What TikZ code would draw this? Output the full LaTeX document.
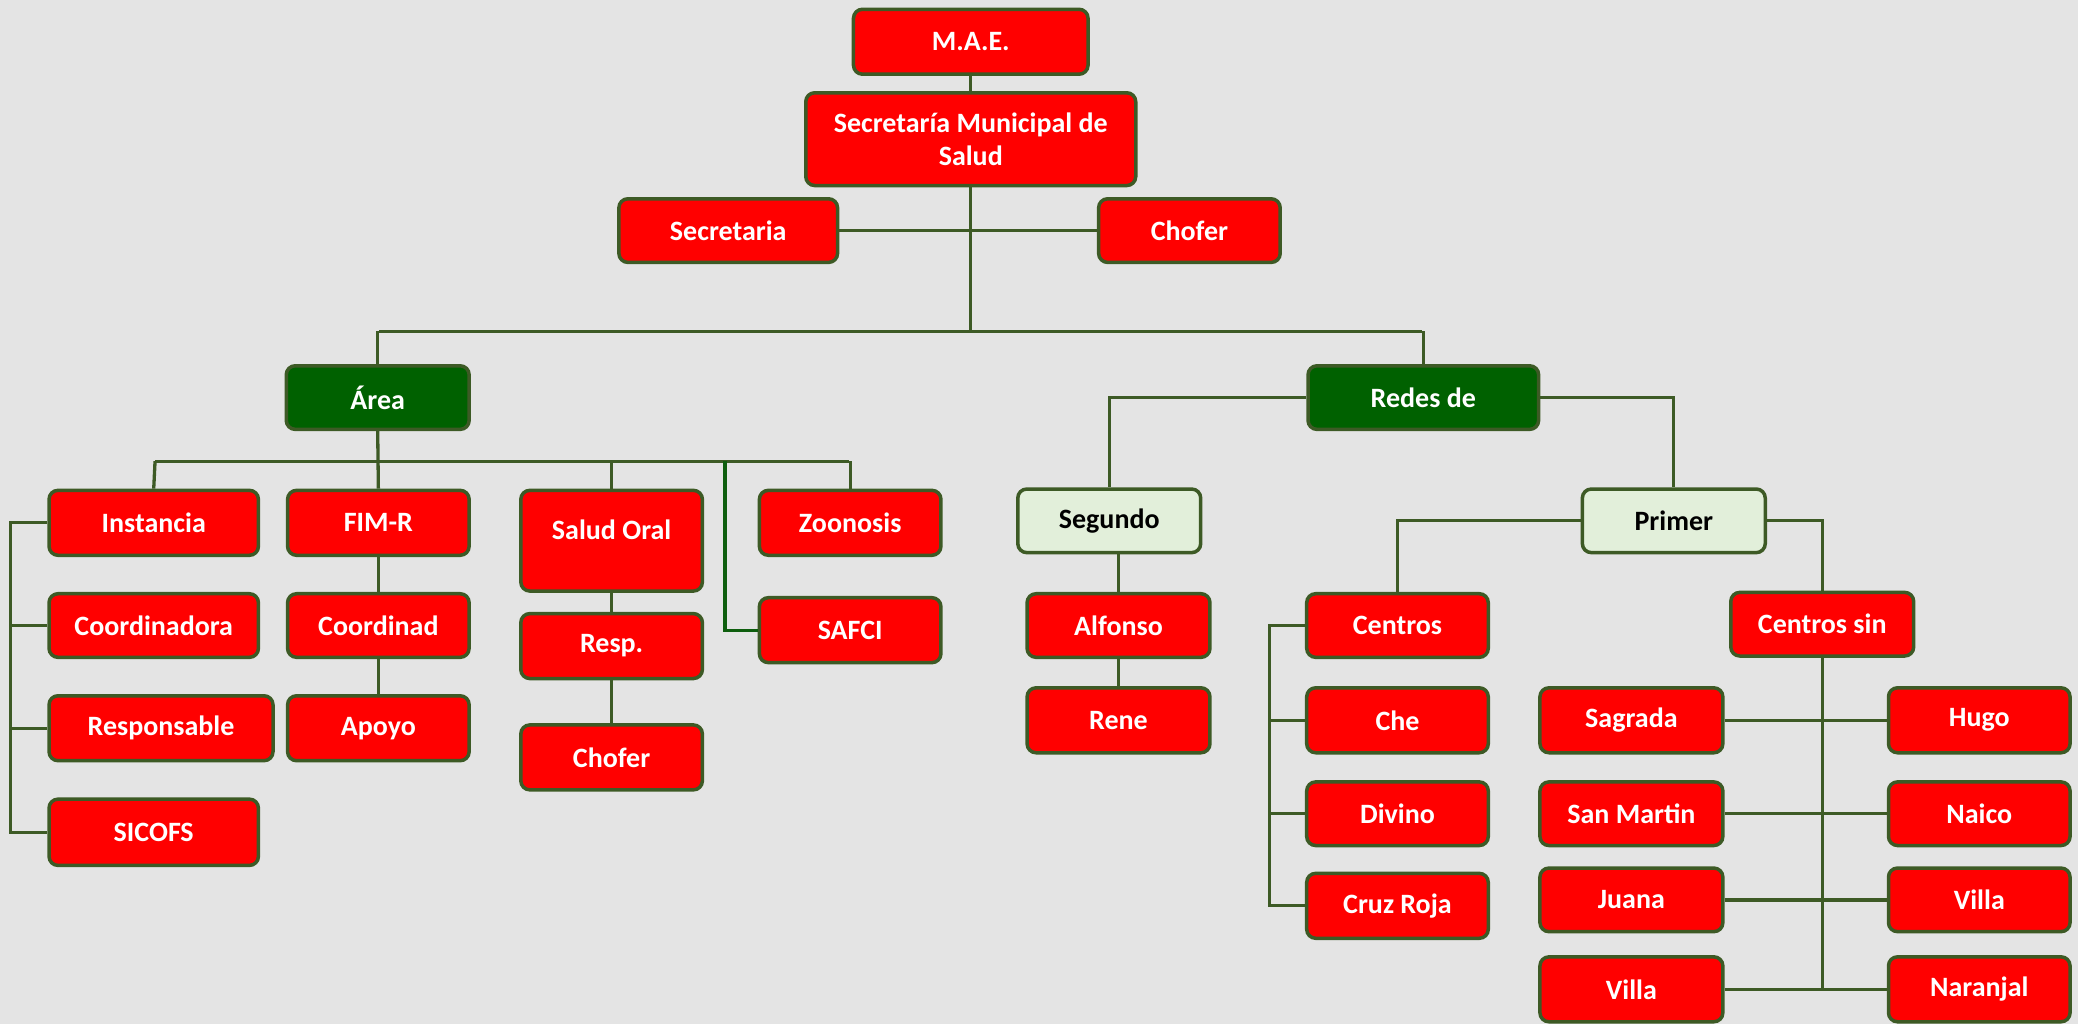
\documentclass[tikz,border=0pt]{standalone}
\usepackage{fontspec}
\setmainfont{Carlito}
\definecolor{boxred}{HTML}{FF0000}
\definecolor{edgec}{HTML}{3D5A25}
\definecolor{dgreen}{HTML}{006100}
\definecolor{lgreen}{HTML}{E2EFDA}
\definecolor{bgc}{HTML}{E4E4E4}
\definecolor{safcic}{HTML}{0E5E0E}
\begin{document}
\begin{tikzpicture}[x=1.3253pt,y=-1.3253pt,
  box/.style={draw=edgec, line width=3.5pt, rounded corners=9pt, font=\fontsize{28}{33}\selectfont\bfseries, align=center, inner sep=0pt},
  rbox/.style={box, fill=boxred, text=white},
  gbox/.style={box, fill=dgreen, text=white},
  lbox/.style={box, fill=lgreen, text=black},
  sz/.style 2 args={minimum width=#1*1.3253pt, minimum height=#2*1.3253pt},
  conn/.style={draw=edgec, line width=3.3pt}]
\useasboundingbox (0,0) rectangle (1568,773);
\fill[bgc] (0,0) rectangle (1568,773);

% top
\node[rbox, sz={177}{49}] (mae) at (732.5,31.5) {M.A.E.};
\node[rbox, sz={249}{70}] (sms) at (732.5,105) {Secretaría Municipal de\\Salud};
\node[rbox, sz={165}{48}] (sec) at (549.5,174) {Secretaria};
\node[rbox, sz={137}{48}] (cho) at (897.5,174) {Chofer};
\node[gbox, sz={138}{48}] (area) at (285,300) {Área};
\node[gbox, sz={174}{48}] (redes) at (1074,300) {Redes de};

% left branch
\node[rbox, sz={158}{49}] (inst) at (116,394.5) {Instancia};
\node[rbox, sz={137}{49}] (fim) at (285.5,394.5) {FIM-R};
\node[rbox, sz={137}{76}] (so) at (461.5,408) {};
\node[font=\fontsize{28}{33}\selectfont\bfseries, text=white, inner sep=0pt] (sot) at (461.5,400) {Salud Oral};
\node[rbox, sz={137}{49}] (zoo) at (641.5,394.5) {Zoonosis};
\node[rbox, sz={137}{49}] (safci) at (641.5,475.5) {SAFCI};
\node[rbox, sz={158}{48}] (coora) at (116,472) {Coordinadora};
\node[rbox, sz={137}{48}] (coord) at (285.5,472) {Coordinad};
\node[rbox, sz={137}{49}] (resp) at (461.5,487.5) {Resp.};
\node[rbox, sz={169}{49}] (respo) at (121.5,549.5) {Responsable};
\node[rbox, sz={137}{49}] (apoyo) at (285.5,549.5) {Apoyo};
\node[rbox, sz={137}{49}] (cho2) at (461.5,571.5) {Chofer};
\node[rbox, sz={158}{50}] (sicofs) at (116,628) {SICOFS};

% right branch
\node[lbox, sz={138}{48}] (seg) at (837,393) {Segundo};
\node[lbox, sz={138}{48}] (pri) at (1263,393) {Primer};
\node[rbox, sz={138}{48}] (alf) at (844,472) {Alfonso};
\node[rbox, sz={138}{49}] (rene) at (844,543.5) {Rene};
\node[rbox, sz={137}{48}] (cen) at (1054.5,472) {Centros};
\node[rbox, sz={138}{48}] (censin) at (1375,471) {Centros sin};
\node[rbox, sz={137}{49}] (che) at (1054.5,543.5) {Che};
\node[rbox, sz={137}{48}] (div) at (1054.5,614) {Divino};
\node[rbox, sz={137}{49}] (cruz) at (1054.5,683.5) {Cruz Roja};
\node[rbox, sz={138}{49}] (sag) at (1231,543.5) {Sagrada};
\node[rbox, sz={137}{49}] (hugo) at (1493.5,543.5) {Hugo};
\node[rbox, sz={138}{48}] (sanm) at (1231,614) {San Martin};
\node[rbox, sz={137}{48}] (naico) at (1493.5,614) {Naico};
\node[rbox, sz={138}{48}] (juana) at (1231,679) {Juana};
\node[rbox, sz={137}{48}] (villa1) at (1493.5,679) {Villa};
\node[rbox, sz={138}{49}] (villa2) at (1231,746.5) {Villa};
\node[rbox, sz={137}{49}] (naranjal) at (1493.5,746.5) {Naranjal};

% coordinates
\coordinate (busL) at (286,250);
\coordinate (busR) at (1073,250);
\coordinate (ab) at (117,348);
\coordinate (abR) at (641,348);
\coordinate (sfc) at (547,348);
\coordinate (lb) at (8,0);
\coordinate (rb) at (958,0);

% connectors
\draw[conn] (mae.south) -- (sms.north);
\draw[conn] (sms.south) -- (sms.south |- busL);
\draw[conn] (sec.east) -- (cho.west);
\draw[conn] (busL) -- (busR);
\draw[conn] (area.north |- busL) -- (area.north);
\draw[conn] (redes.north |- busR) -- (redes.north);

\draw[conn] (area.south) -- (fim.north);
\draw[conn] (ab) -- (abR);
\draw[conn] (ab) -- (inst.north);
\draw[conn] (so.north |- ab) -- (so.north);
\draw[conn] (zoo.north |- abR) -- (zoo.north);
\draw[draw=safcic, line width=3.3pt] (sfc) |- (safci.west);
\draw[conn] (inst.west) -- (inst.west -| lb) -- (sicofs.west -| lb) -- (sicofs.west);
\draw[conn] (coora.west) -- (coora.west -| lb);
\draw[conn] (respo.west) -- (respo.west -| lb);
\draw[conn] (fim.south) -- (coord.north);
\draw[conn] (coord.south) -- (apoyo.north);
\draw[conn] (so.south) -- (resp.north);
\draw[conn] (resp.south) -- (cho2.north);

\draw[conn] (redes.west) -| (seg.north);
\draw[conn] (redes.east) -| (pri.north);
\draw[conn] (alf.north |- seg.south) -- (alf.north);
\draw[conn] (alf.south) -- (rene.north);
\draw[conn] (pri.west) -| (cen.north);
\draw[conn] (pri.east) -| (censin.north);
\draw[conn] (cen.west) -- (cen.west -| rb) -- (cruz.west -| rb) -- (cruz.west);
\draw[conn] (che.west) -- (che.west -| rb);
\draw[conn] (div.west) -- (div.west -| rb);
\draw[conn] (censin.south) -- (censin.south |- villa2.east);
\draw[conn] (sag.east) -- (hugo.west);
\draw[conn] (sanm.east) -- (naico.west);
\draw[conn] (juana.east) -- (villa1.west);
\draw[conn] (villa2.east) -- (naranjal.west);
\end{tikzpicture}
\end{document}
